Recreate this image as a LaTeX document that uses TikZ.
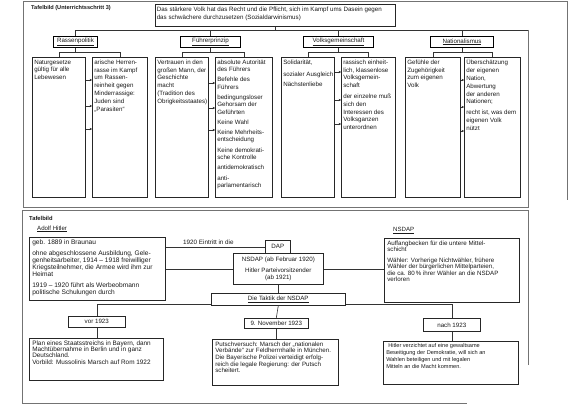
\documentclass[tikz,border=0pt]{standalone}
\usepackage{fontspec}
\setmainfont{Liberation Sans}
\usetikzlibrary{arrows.meta}
\newcommand\fa{\fontsize{6.2}{7.8}\selectfont}
\newcommand\fd{\fontsize{6.2}{7.3}\selectfont}
\newcommand\fh{\fontsize{6.2}{7.5}\selectfont}
\newcommand\fhit{\fontsize{6.6}{6.8}\selectfont}
\newcommand\fpl{\fontsize{6.4}{6.2}\selectfont}
\newcommand\fpu{\fontsize{6.2}{6.6}\selectfont}
\newcommand\fin{\fontsize{6.2}{6.4}\selectfont}
\newcommand\fna{\fontsize{5.6}{6.8}\selectfont}
\newcommand\gap{\par\vspace{3pt}}
\newcommand\bgap{\par\vspace{4.5pt}}
\newcommand\bxnode[6]{\node[bx] (#1) at (#2,#3) {\parbox[c][\dimexpr#5pt-5pt\relax][t]{\dimexpr#4pt-4pt\relax}{\raggedright #6}};}
\begin{document}
\begin{tikzpicture}[x=1pt,y=-1pt,
  bx/.style={draw=black!85, line width=0.6pt, anchor=north west, inner xsep=2pt, inner ysep=2.5pt, text=black!90},
  hd/.style={draw=black, line width=1pt, anchor=north west, inner sep=0pt, font=\fh, text=black!90},
  sb/.style={draw=black!85, line width=0.6pt, anchor=north west, inner sep=0pt, font=\fh, text=black!90},
  ln/.style={draw=black!80, line width=0.6pt},
  ar/.style={ln, -{Stealth[length=2.4pt,width=2.4pt]}},
  frm/.style={draw=black!55, line width=0.6pt},
  lbl/.style={inner sep=0pt, anchor=base west, font=\fh, text=black!90}]
\useasboundingbox (0,0) rectangle (570,406);

% ---------- top section ----------
\draw[frm] (23,207) -- (23,1.5) -- (567,1.5) -- (567,200);
\node[lbl, font=\fontsize{5.6}{6}\selectfont\bfseries] (tb1) at (31,10) {Tafelbild (Unterrichtsschritt 3)};

\node[bx, inner xsep=1.5pt] (top) at (155,4) {\parbox[c][17pt][t]{237pt}{\fa Das stärkere Volk hat das Recht und die Pflicht, sich im Kampf ums Dasein gegen\\das schwächere durchzusetzen (Sozialdarwinismus)}};

\node[hd, minimum width=44, minimum height=11] (rass) at (53,36) {\underline{Rassenpolitik}};
\node[hd, minimum width=60, minimum height=11] (fuhr) at (180,36) {\underline{Führerprinzip}};
\node[hd, minimum width=70, minimum height=11] (volk) at (303,36) {\underline{Volksgemeinschaft}};
\node[hd, minimum width=63, minimum height=11] (nat) at (430,36) {\underline{Nationalismus}};

\coordinate (busR) at (528,30);
\draw[ln] (top.south) -- (top.south |- busR);
\draw[ln] (rass.north) -- (rass.north |- busR) -- (busR);
\draw[ln] (fuhr.north) -- (fuhr.north |- busR);
\draw[ln] (volk.north) -- (volk.north |- busR);
\draw[ln] (nat.north) -- (nat.north |- busR);
\draw[frm] (busR) -- (528,207) -- (23,207);

\bxnode{A}{32}{57}{53}{140}{\fa Naturgesetze\\gültig für alle\\Lebewesen}
\bxnode{B}{92}{57}{55}{140}{\fa arische Herren-\\rasse im Kampf\\um Rassen-\\reinheit gegen\\Minderrassige:\\Juden sind\\„Parasiten“}
\bxnode{C}{155}{57}{53}{140}{\fa Vertrauen in den\\großen Mann, der\\Geschichte\\macht\\(Tradition des\\\mbox{Obrigkeitsstaates)}}
\bxnode{D}{215}{57}{57}{140}{\fd absolute Autorität\\des Führers\gap Befehle des\\Führers\gap bedingungsloser\\Gehorsam der\\Geführten\gap Keine Wahl\gap Keine Mehrheits-\\entscheidung\gap Keine demokrati-\\sche Kontrolle\gap antidemokratisch\gap anti-\\parlamentarisch}
\bxnode{E}{281}{57}{53}{140}{\fa Solidarität,\par\vspace{4pt}\mbox{sozialer Ausgleich}\par\vspace{3pt}Nächstenliebe}
\bxnode{F}{341}{57}{54}{140}{\fa rassisch einheit-\\lich, klassenlose\\Volksgemein-\\schaft\gap der einzelne muß\\sich den\\Interessen des\\Volksganzen\\unterordnen}
\bxnode{G}{405}{57}{55}{140}{\fa Gefühle der\\Zugehörigkeit\\zum eigenen\\Volk}
\bxnode{H}{464}{57}{56}{140}{\fa Überschätzung\\der eigenen\\Nation,\\Abwertung\\der anderen\\Nationen;\gap \mbox{recht ist, was dem}\\eigenen Volk\\nützt}

\foreach \h/\l/\r in {rass/A/B, fuhr/C/D, volk/E/F, nat/G/H}{
  \draw[ln] (\h.south) -- ++(0,5);
  \draw[ln] (\l.north) -- ++(0,-5) -| (\r.north);
}
\foreach \yy in {80,106,129}{\draw[ar] (A.east |- 0,\yy) -- (B.west |- 0,\yy);}
\foreach \yy in {83,108,130}{\draw[ar] (C.east |- 0,\yy) -- (D.west |- 0,\yy);}
\foreach \yy in {72,100,124}{\draw[ar] (E.east |- 0,\yy) -- (F.west |- 0,\yy);}
\foreach \yy in {80,107,131}{\draw[ar] (G.east |- 0,\yy) -- (H.west |- 0,\yy);}

% ---------- bottom section ----------
\draw[frm] (528,365) -- (528,210) -- (22,210) -- (22,403) -- (467,403);
\node[lbl, font=\fontsize{5.8}{6}\selectfont\bfseries] (tb2) at (29,220) {Tafelbild};
\node[lbl, font=\fontsize{6.1}{6}\selectfont] (ah) at (37,230) {\underline{Adolf Hitler}};

\node[bx, inner xsep=3pt] (hit) at (29,237) {\parbox[c][58pt][t]{130pt}{\fhit geb. 1889 in Braunau\bgap ohne abgeschlossene Ausbildung, Gele-\\genheitsarbeiter, 1914 -- 1918 freiwilliger\\Kriegsteilnehmer, die Armee wird ihm zur\\Heimat\bgap 1919 -- 1920 führt als Werbeobmann\\politische Schulungen durch}};

\node[sb, minimum width=25, minimum height=13] (dap) at (265,240) {DAP};
\node[bx, inner sep=0pt] (nsd) at (233,253) {\parbox[c][31pt][c]{90pt}{\centering\fin NSDAP (ab Februar 1920)\par\vspace{5pt}Hitler Parteivorsitzender\\(ab 1921)}};

\node[lbl, font=\fontsize{6.3}{6}\selectfont] (ein) at (183,244) {1920 Eintritt in die};
\draw[ln] (hit.east |- dap.west) -- (dap.west);
\draw[ln] (hit.east |- nsd.west) -- (nsd.west);

\node[lbl, font=\fontsize{6.1}{6}\selectfont] (nl) at (393,232) {\underline{NSDAP}};
\node[bx, inner xsep=3pt] (info) at (384,238) {\parbox[c][59pt][t]{129pt}{\fin Auffangbecken für die untere Mittel-\\schicht\bgap Wähler: Vorherige Nichtwähler, frühere\\Wähler der bürgerlichen Mittelparteien,\\die ca. 80\,\% ihrer Wähler an die NSDAP\\verloren}};
\draw[ln] (nsd.east) -- (info.west |- nsd.east);

\node[sb, minimum width=134, minimum height=12] (tak) at (211,293) {\underline{Die Taktik der NSDAP}};
\draw[ln] (nsd.south) -- (tak.north);

\node[sb, minimum width=57, minimum height=11] (vor) at (68,316) {vor 1923};
\node[sb, minimum width=64, minimum height=10] (nov) at (244,318) {9. November 1923};
\node[sb, minimum width=57, minimum height=13] (nach) at (423,318) {nach 1923};

\draw[ln] ([yshift=1.5pt]tak.south west) -| (vor.north);
\draw[ln] (tak.south) -- (nov.north);
\draw[ln] ([yshift=1pt]tak.south east) -| (nach.north);

\node[bx, inner xsep=3pt] (plan) at (29,338) {\parbox[c][37pt][t]{128pt}{\fpl Plan eines Staatsstreichs in Bayern, dann\\Machtübernahme in Berlin und in ganz\\Deutschland.\\Vorbild: Mussolinis Marsch auf Rom 1922}};
\node[bx, inner xsep=3pt] (pu) at (212,339) {\parbox[c][41pt][t]{120pt}{\fpu Putschversuch: Marsch der „nationalen\\Verbände“ zur Feldherrnhalle in München.\\Die Bayerische Polizei verteidigt erfolg-\\reich die legale Regierung: der Putsch\\scheitert.}};
\node[bx, inner xsep=3pt] (nb) at (383,341) {\parbox[c][38pt][t]{129pt}{\fna\hspace*{2pt}Hitler verzichtet auf eine gewaltsame\\Beseitigung der Demokratie, will sich an\\Wahlen beteiligen und mit legalen\\Mitteln an die Macht kommen.}};

\draw[ln] (vor.south) -- (plan.north -| vor.south);
\draw[ln] (nov.south) -- (pu.north -| nov.south);
\draw[ln] (nach.south) -- (nb.north -| nach.south);
\end{tikzpicture}
\end{document}
